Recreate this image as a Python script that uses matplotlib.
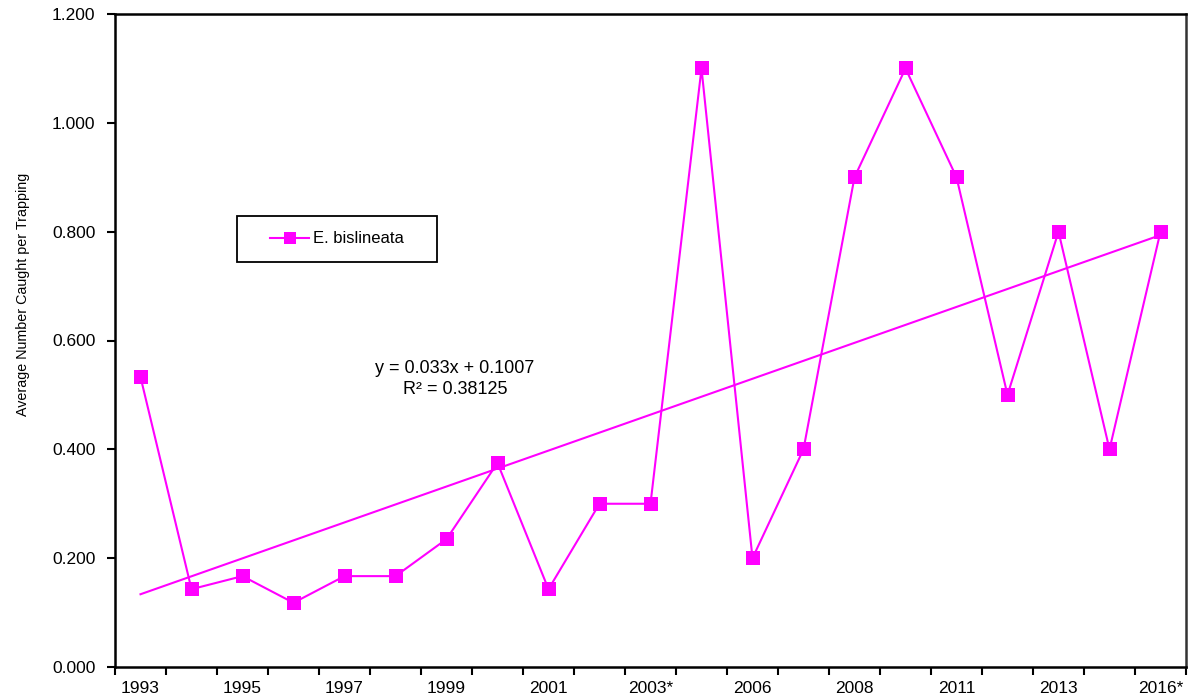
import numpy as np
import matplotlib
matplotlib.use("Agg")
import matplotlib.pyplot as plt
from matplotlib.patches import Rectangle
from matplotlib.ticker import FixedLocator, FormatStrFormatter

plt.rcParams['font.family'] = ['Liberation Sans', 'DejaVu Sans']

# Survey years (every other one labelled on the axis)
years = ["1993", "1994", "1995", "1996", "1997", "1998", "1999", "2000",
         "2001", "2002", "2003*", "2005", "2006", "2007", "2008", "2010",
         "2011", "2012", "2013", "2015", "2016*"]
catch_avg = [0.533, 0.143, 0.167, 0.118, 0.167, 0.167, 0.235, 0.375,
             0.143, 0.300, 0.300, 1.100, 0.200, 0.400, 0.900, 1.100,
             0.900, 0.500, 0.800, 0.400, 0.800]
series_name = "E. bislineata"

# Linear trend coefficients (x = 1..n)
trend_slope = 0.033
trend_intercept = 0.1007
trend_r2 = 0.38125

magenta = "#FF00FF"
W, H = 1189, 700

fig = plt.figure(figsize=(W / 100, H / 100), dpi=100)
ax_l, ax_r, ax_t, ax_b = 115, 1186, 14, 667
ax = fig.add_axes([ax_l / W, (H - ax_b) / H, (ax_r - ax_l) / W, (ax_b - ax_t) / H])


def px_to_axes(px, py):
    return (px - ax_l) / (ax_r - ax_l), (ax_b - py) / (ax_b - ax_t)


x = np.arange(1, len(years) + 1)
ax.plot(x, catch_avg, color=magenta, lw=1.5, marker="s", ms=9.5,
        markeredgewidth=0, label=series_name, zorder=3)

trend_y = trend_slope * x + trend_intercept
ax.plot([x[0], x[-1]], [trend_y[0], trend_y[-1]], color=magenta, lw=1.5,
        zorder=2)

ax.set_xlim(0.5, len(years) + 0.5)
ax.set_ylim(0, 1.2)
ax.set_yticks(np.arange(0, 1.201, 0.2))
ax.yaxis.set_major_formatter(FormatStrFormatter("%.3f"))

# Category labels on every other point, tick marks between categories
ax.xaxis.set_major_locator(FixedLocator(x[::2]))
ax.set_xticklabels(years[::2])
ax.xaxis.set_minor_locator(FixedLocator(np.arange(0.5, len(years) + 1, 1.0)))
ax.tick_params(axis="x", which="major", length=0, pad=10, labelsize=12.5)
ax.tick_params(axis="x", which="minor", length=6, width=1.5, direction="out")
ax.tick_params(axis="y", length=6, width=1.5, direction="out", pad=8,
               labelsize=12.5)

for side in ["left", "bottom", "top"]:
    ax.spines[side].set_linewidth(1.8)
    ax.spines[side].set_color("black")
ax.spines["right"].set_linewidth(1.8)
ax.spines["right"].set_color("#333333")

ax.set_ylabel("Average Number Caught per Trapping", fontsize=10.3, labelpad=16)
ax.yaxis.label.set_y(px_to_axes(0, 294)[1])

# Legend box with the series entry inside it
bx0, by0 = px_to_axes(237, 262)
bx1, by1 = px_to_axes(437, 216)
ax.add_patch(Rectangle((bx0, by0), bx1 - bx0, by1 - by0, transform=ax.transAxes,
                       facecolor="white", edgecolor="black", lw=1.3, zorder=4))
lx, ly = px_to_axes(270, 239)
leg = ax.legend(loc="center left", bbox_to_anchor=(lx, ly), frameon=False,
                fontsize=12, borderpad=0, borderaxespad=0,
                handlelength=2.35, handletextpad=0.25, markerscale=0.85)
leg.set_zorder(5)

ex, ey = px_to_axes(455, 379)
ax.text(ex, ey,
        f"y = {trend_slope}x + {trend_intercept}\nR\u00b2 = {trend_r2}",
        transform=ax.transAxes, ha="center", va="center", fontsize=13,
        linespacing=1.3)

fig.savefig("out.png", dpi=100)
